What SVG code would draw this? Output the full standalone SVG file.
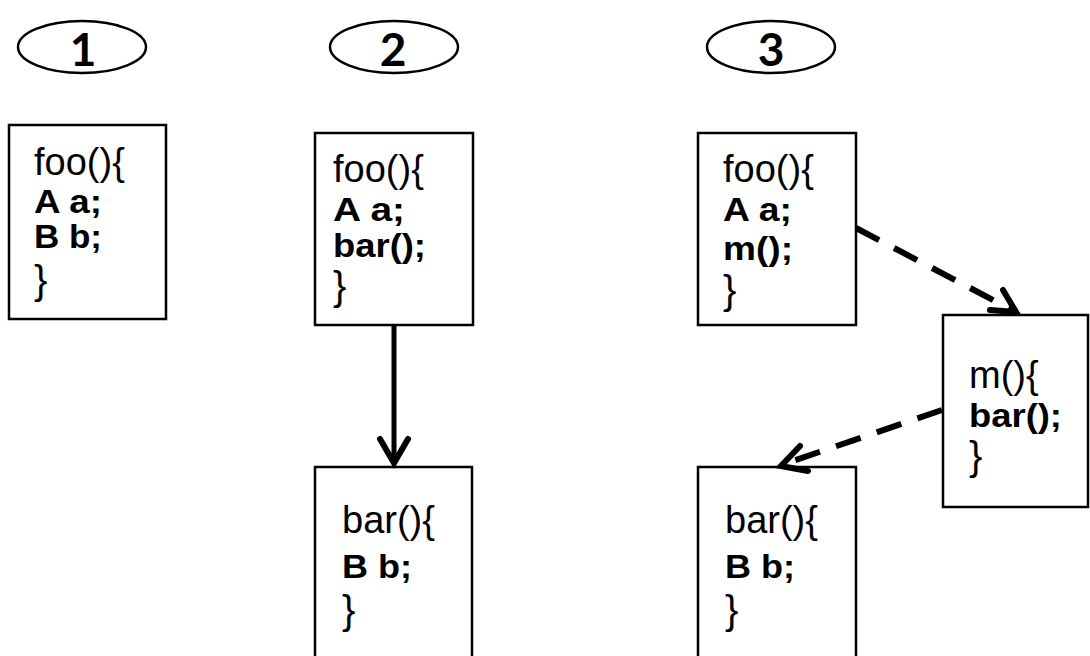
<svg xmlns="http://www.w3.org/2000/svg" width="1090" height="656" viewBox="0 0 1090 656">
  <style>
    .box { fill: #fff; stroke: #000; stroke-width: 2.5; }
    .oval { fill: #fff; stroke: #000; stroke-width: 2.5; }
    .num { font-family: Lato, "Liberation Sans", Arial, sans-serif; font-weight: bold; font-size: 46px; text-anchor: middle; fill: #000; }
    .reg { font-family: "Liberation Sans", Arial, sans-serif; font-size: 38px; fill: #000; }
    .brace { font-family: "Liberation Sans", Arial, sans-serif; font-size: 40px; fill: #000; }
    .bold { font-family: "Liberation Sans", Arial, sans-serif; font-weight: bold; font-size: 34px; fill: #000; }
    .solid { fill: none; stroke: #000; stroke-width: 5; }
    .dash { fill: none; stroke: #000; stroke-width: 6; stroke-dasharray: 26 17; }
    .head { fill: none; stroke: #000; stroke-width: 6; stroke-linecap: round; stroke-linejoin: miter; }
  </style>

  <!-- step labels -->
  <g id="step1">
    <ellipse class="oval" cx="82" cy="47" rx="64" ry="26"/>
    <text class="num" x="83" y="66">1</text>
  </g>
  <g id="step2">
    <ellipse class="oval" cx="394" cy="47" rx="64" ry="26"/>
    <text class="num" x="393" y="66">2</text>
  </g>
  <g id="step3">
    <ellipse class="oval" cx="771" cy="47" rx="64" ry="26"/>
    <text class="num" x="771" y="66">3</text>
  </g>

  <!-- step 1: foo with both declarations -->
  <g id="foo1">
    <rect class="box" x="9" y="125" width="157" height="194"/>
    <text class="reg" x="34" y="175">foo(){</text>
    <text class="bold" x="34" y="213" textLength="68" lengthAdjust="spacingAndGlyphs">A a;</text>
    <text class="bold" x="34" y="248" textLength="68" lengthAdjust="spacingAndGlyphs">B b;</text>
    <text class="brace" x="34" y="294">}</text>
  </g>

  <!-- step 2: foo calls bar -->
  <g id="foo2">
    <rect class="box" x="315" y="133" width="158" height="192"/>
    <text class="reg" x="333" y="182">foo(){</text>
    <text class="bold" x="333" y="221" textLength="72" lengthAdjust="spacingAndGlyphs">A a;</text>
    <text class="bold" x="333" y="257" textLength="93" lengthAdjust="spacingAndGlyphs">bar();</text>
    <text class="brace" x="333" y="300">}</text>
  </g>
  <g id="bar2">
    <rect class="box" x="315" y="467" width="157" height="200"/>
    <text class="reg" x="342" y="533">bar(){</text>
    <text class="bold" x="342" y="578" textLength="70" lengthAdjust="spacingAndGlyphs">B b;</text>
    <text class="brace" x="342" y="624">}</text>
  </g>

  <!-- step 3: foo calls m, m calls bar -->
  <g id="foo3">
    <rect class="box" x="698" y="133" width="158" height="192"/>
    <text class="reg" x="723" y="182">foo(){</text>
    <text class="bold" x="723" y="221" textLength="69" lengthAdjust="spacingAndGlyphs">A a;</text>
    <text class="bold" x="723" y="260" textLength="70" lengthAdjust="spacingAndGlyphs">m();</text>
    <text class="brace" x="723" y="304">}</text>
  </g>
  <g id="m3">
    <rect class="box" x="943" y="315" width="145" height="192"/>
    <text class="reg" x="969" y="388">m(){</text>
    <text class="bold" x="969" y="427" textLength="93" lengthAdjust="spacingAndGlyphs">bar();</text>
    <text class="brace" x="969" y="470">}</text>
  </g>
  <g id="bar3">
    <rect class="box" x="698" y="467" width="158" height="200"/>
    <text class="reg" x="725" y="533">bar(){</text>
    <text class="bold" x="725" y="578" textLength="70" lengthAdjust="spacingAndGlyphs">B b;</text>
    <text class="brace" x="725" y="624">}</text>
  </g>

  <!-- call edges -->
  <g id="connectors">
    <line class="solid" x1="394" y1="326" x2="394" y2="462"/>
    <polyline class="head" points="380,439 394,463 408,439"/>

    <line class="dash" x1="856" y1="228" x2="1014" y2="311"/>
    <polyline class="head" points="1003,290 1016,312 990,310"/>

    <line class="dash" x1="942" y1="410" x2="784" y2="464"/>
    <polyline class="head" points="800,446 781,466 808,471"/>
  </g>
</svg>
